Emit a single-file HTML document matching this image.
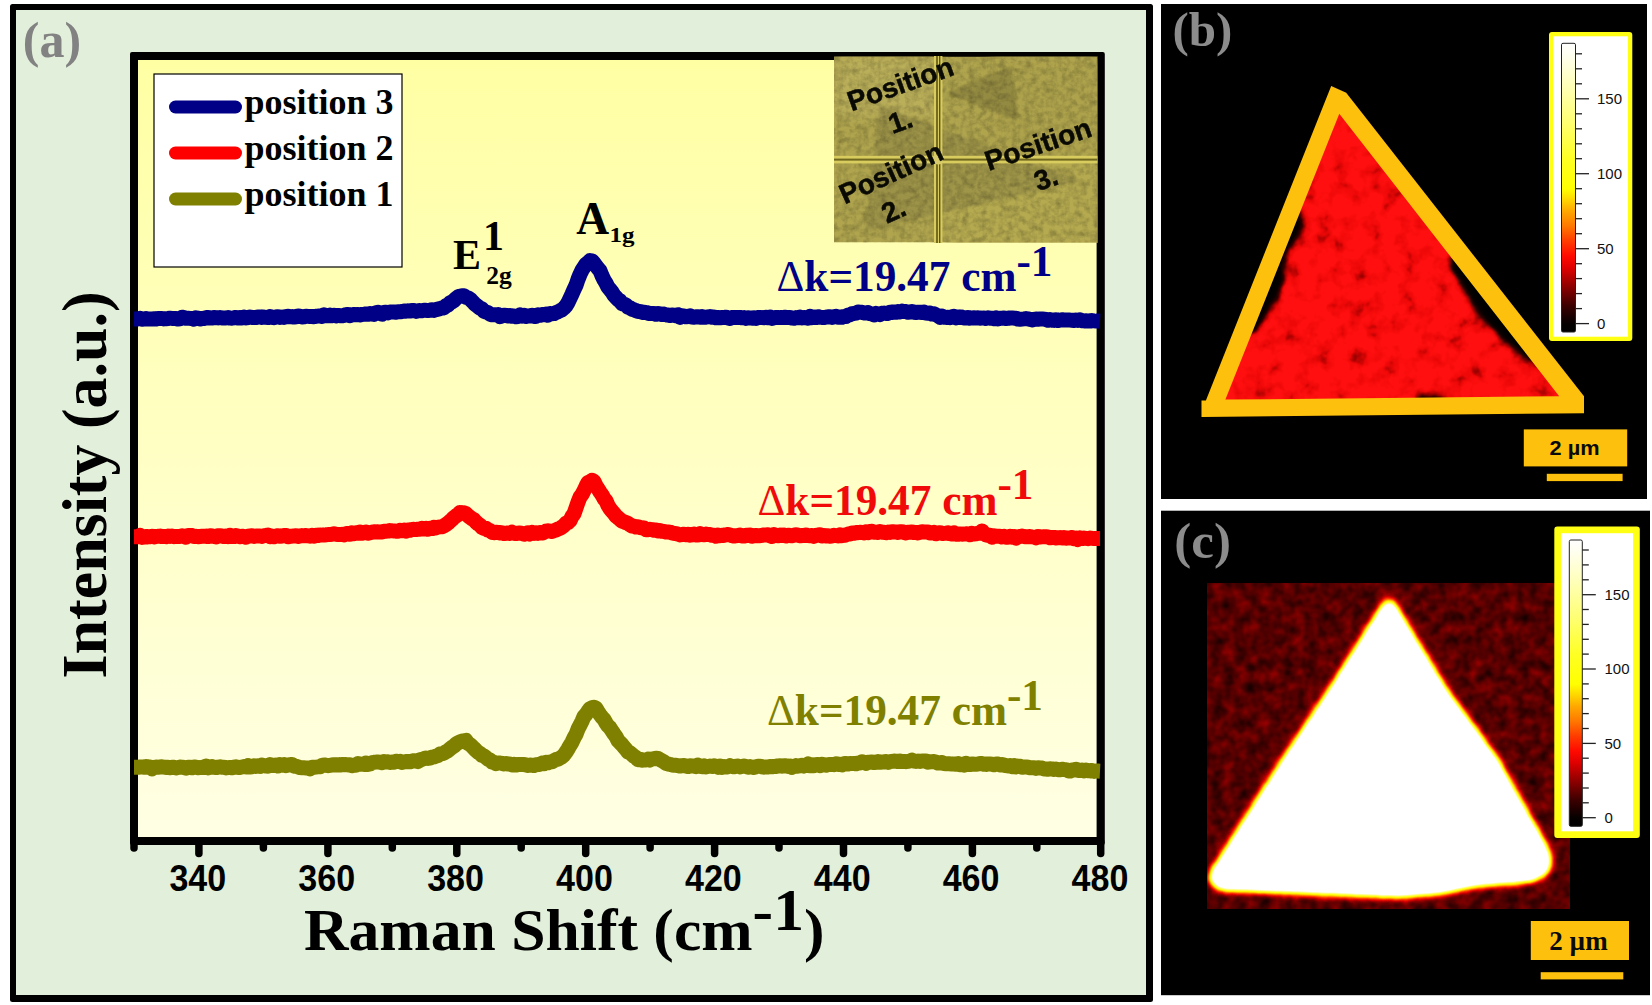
<!DOCTYPE html>
<html lang="en"><head><meta charset="utf-8"><title>Raman spectra and Raman mapping</title>
<style>html,body{margin:0;padding:0;background:#fff}svg{display:block}text{font-family:"Liberation Serif", "DejaVu Serif", serif;font-weight:bold}.sans{font-family:"Liberation Sans", "DejaVu Sans", sans-serif}</style></head><body>
<svg width="1652" height="1005" viewBox="0 0 1652 1005">
<defs>
<linearGradient id="plotbg" x1="0" y1="0" x2="0" y2="1"><stop offset="0" stop-color="#ffffa4"/><stop offset="1" stop-color="#ffffe4"/></linearGradient>
<linearGradient id="hot" x1="0" y1="1" x2="0" y2="0"><stop offset="0" stop-color="#000000"/><stop offset="0.03" stop-color="#060000"/><stop offset="0.091" stop-color="#3c0000"/><stop offset="0.159" stop-color="#900000"/><stop offset="0.221" stop-color="#de0000"/><stop offset="0.263" stop-color="#ff0a00"/><stop offset="0.315" stop-color="#ff3c00"/><stop offset="0.367" stop-color="#ff7800"/><stop offset="0.419" stop-color="#ffa800"/><stop offset="0.46" stop-color="#ffd800"/><stop offset="0.497" stop-color="#ffff00"/><stop offset="0.60" stop-color="#ffff24"/><stop offset="0.73" stop-color="#ffff74"/><stop offset="0.86" stop-color="#ffffbc"/><stop offset="0.964" stop-color="#fffff2"/><stop offset="1" stop-color="#ffffff"/></linearGradient>
<filter id="photoNoise" x="0" y="0" width="100%" height="100%"><feTurbulence type="fractalNoise" baseFrequency="0.16" numOctaves="3" seed="3" result="n"/><feColorMatrix in="n" type="matrix" values="0 0 0 0 0  0 0 0 0 0  0 0 0 0 0  0.9 0.9 0 0 -0.7" result="a"/><feComposite in="a" in2="SourceGraphic" operator="in"/></filter>
<filter id="redNoise" x="-5%" y="-5%" width="110%" height="110%"><feTurbulence type="fractalNoise" baseFrequency="0.045" numOctaves="3" seed="11" result="n"/><feColorMatrix in="n" type="matrix" values="0 0 0 0 0.42  0 0 0 0 0  0 0 0 0 0  1.5 0 0 0 -0.5" result="a"/><feComposite in="a" in2="SourceGraphic" operator="in"/></filter>
<filter id="darkNoise" x="0" y="0" width="100%" height="100%"><feTurbulence type="fractalNoise" baseFrequency="0.1" numOctaves="2" seed="5" result="n"/><feColorMatrix in="n" type="matrix" values="0 0 0 0 0.66  0 0 0 0 0  0 0 0 0 0  2.2 0 0 0 -1.0" result="a"/><feComposite in="a" in2="SourceGraphic" operator="in"/></filter>
<filter id="darkNoise2" x="0" y="0" width="100%" height="100%"><feTurbulence type="fractalNoise" baseFrequency="0.1" numOctaves="2" seed="5" result="n"/><feColorMatrix in="n" type="matrix" values="0 0 0 0 0  0 0 0 0 0  0 0 0 0 0  0 2.4 0 0 -1.0" result="a"/><feComposite in="a" in2="SourceGraphic" operator="in"/></filter>
<filter id="blur3"><feGaussianBlur stdDeviation="3"/></filter>
<filter id="blur2"><feGaussianBlur stdDeviation="1.8"/></filter>
<filter id="blur1"><feGaussianBlur stdDeviation="0.9"/></filter>
<filter id="blur6"><feGaussianBlur stdDeviation="6"/></filter>
<filter id="hotmap" filterUnits="userSpaceOnUse" x="1207.5" y="583" width="362.5" height="325.5" color-interpolation-filters="sRGB"><feGaussianBlur in="SourceGraphic" stdDeviation="5" result="b"/><feTurbulence type="fractalNoise" baseFrequency="0.085" numOctaves="2" seed="4" result="t"/><feColorMatrix in="t" type="matrix" values="0.15 0 0 0 0.008  0.15 0 0 0 0.008  0.15 0 0 0 0.008  0 0 0 0 1" result="n"/><feComposite in="b" in2="n" operator="arithmetic" k1="0" k2="2.2" k3="1" k4="0" result="s"/><feComponentTransfer in="s"><feFuncR type="table" tableValues="0 0.40 0.86 1 1 1 1 1 1 1 1"/><feFuncG type="table" tableValues="0 0 0 0.25 0.62 0.9 1 1 1 1 1"/><feFuncB type="table" tableValues="0 0 0 0 0 0 0.08 0.3 0.55 0.8 1"/><feFuncA type="linear" slope="0" intercept="1"/></feComponentTransfer></filter>
<filter id="redmap" filterUnits="userSpaceOnUse" x="1195" y="80" width="400" height="345" color-interpolation-filters="sRGB"><feGaussianBlur in="SourceGraphic" stdDeviation="4.2" result="b"/><feTurbulence type="fractalNoise" baseFrequency="0.06" numOctaves="3" seed="8" result="t"/><feColorMatrix in="t" type="matrix" values="1 0 0 0 0  1 0 0 0 0  1 0 0 0 0  0 0 0 0 1" result="n"/><feComposite in="b" in2="n" operator="arithmetic" k1="0.9" k2="0.52" k3="0" k4="0" result="s"/><feComponentTransfer in="s"><feFuncR type="table" tableValues="0 0.04 0.2 0.62 0.93 1"/><feFuncG type="table" tableValues="0 0 0 0 0.03 0.06"/><feFuncB type="table" tableValues="0 0 0 0 0.03 0.06"/><feFuncA type="linear" slope="0" intercept="1"/></feComponentTransfer></filter>
<clipPath id="clipB"><rect x="1161" y="4" width="486" height="495"/></clipPath>
<clipPath id="clipPhoto"><rect x="834" y="56.5" width="263.5" height="186"/></clipPath>
<clipPath id="clipCimg"><rect x="1207.5" y="583" width="362.5" height="325.5"/></clipPath>
</defs>
<rect x="0" y="0" width="1652" height="1005" fill="#ffffff"/>
<g id="panel-a">
<rect x="10" y="4" width="1143" height="998" rx="2.5" fill="#000"/>
<rect x="16" y="10" width="1130" height="985" fill="#e2efda"/>
<rect x="130" y="52" width="974.8" height="793" rx="2" fill="#000"/>
<rect x="138" y="60" width="958.6" height="777" fill="url(#plotbg)"/>
<g stroke="#000" stroke-width="7.5" stroke-linecap="round">
<line x1="198.9" y1="842" x2="198.9" y2="853.5"/>
<line x1="327.9" y1="842" x2="327.9" y2="853.5"/>
<line x1="456.8" y1="842" x2="456.8" y2="853.5"/>
<line x1="585.7" y1="842" x2="585.7" y2="853.5"/>
<line x1="714.6" y1="842" x2="714.6" y2="853.5"/>
<line x1="843.5" y1="842" x2="843.5" y2="853.5"/>
<line x1="972.4" y1="842" x2="972.4" y2="853.5"/>
<line x1="1100.7" y1="842" x2="1100.7" y2="853.5"/>
<line x1="134.0" y1="842" x2="134.0" y2="848"/>
<line x1="263.4" y1="842" x2="263.4" y2="848"/>
<line x1="392.3" y1="842" x2="392.3" y2="848"/>
<line x1="521.2" y1="842" x2="521.2" y2="848"/>
<line x1="650.1" y1="842" x2="650.1" y2="848"/>
<line x1="779.0" y1="842" x2="779.0" y2="848"/>
<line x1="907.9" y1="842" x2="907.9" y2="848"/>
<line x1="1036.8" y1="842" x2="1036.8" y2="848"/>
</g>
<g class="sans" font-size="36" text-anchor="middle" fill="#000">
<text class="sans" x="197.8" y="891" textLength="56.8" lengthAdjust="spacingAndGlyphs">340</text>
<text class="sans" x="326.7" y="891" textLength="56.8" lengthAdjust="spacingAndGlyphs">360</text>
<text class="sans" x="455.6" y="891" textLength="56.8" lengthAdjust="spacingAndGlyphs">380</text>
<text class="sans" x="584.5" y="891" textLength="56.8" lengthAdjust="spacingAndGlyphs">400</text>
<text class="sans" x="713.4" y="891" textLength="56.8" lengthAdjust="spacingAndGlyphs">420</text>
<text class="sans" x="842.2" y="891" textLength="56.8" lengthAdjust="spacingAndGlyphs">440</text>
<text class="sans" x="971.1" y="891" textLength="56.8" lengthAdjust="spacingAndGlyphs">460</text>
<text class="sans" x="1100.0" y="891" textLength="56.8" lengthAdjust="spacingAndGlyphs">480</text>
</g>
<text x="304" y="949.5" font-size="60" fill="#000" textLength="520.5" lengthAdjust="spacingAndGlyphs">Raman Shift (cm<tspan dy="-20">-1</tspan><tspan dy="20">)</tspan></text>
<text transform="translate(106,678.5) rotate(-90)" font-size="63" fill="#000" textLength="387" lengthAdjust="spacingAndGlyphs">Intensity (a.u.)</text>
<text x="22.8" y="57" font-size="50" fill="#828282">(a)</text>
<rect x="154" y="74" width="248" height="193" fill="#fff" stroke="#000" stroke-width="1.2"/>
<g stroke-width="13" stroke-linecap="round">
<line x1="175.5" y1="107" x2="235.5" y2="107" stroke="#000086"/>
<line x1="175.5" y1="153" x2="235.5" y2="153" stroke="#ff0000"/>
<line x1="175.5" y1="199" x2="235.5" y2="199" stroke="#808000"/>
</g>
<g font-size="36" fill="#000">
<text x="244.5" y="113.5">position 3</text>
<text x="244.5" y="159.5">position 2</text>
<text x="244.5" y="205.5">position 1</text>
</g>
<g fill="none" stroke-width="15" stroke-linejoin="round" stroke-linecap="butt">
<polyline stroke="#000086" points="134.0,319.0 136.0,319.0 138.0,319.0 140.0,318.3 142.0,319.3 144.0,319.1 146.0,318.6 148.0,319.1 150.0,319.0 152.0,318.9 154.0,318.8 156.0,319.0 158.0,318.4 160.0,318.6 162.0,318.5 164.0,318.9 166.0,318.7 168.0,318.5 170.0,318.2 172.0,318.4 174.0,318.5 176.0,318.4 178.0,319.1 180.0,318.9 182.0,317.2 184.0,317.6 186.0,318.3 188.0,318.2 190.0,318.4 192.0,318.4 194.0,319.2 196.0,317.8 198.0,318.1 200.0,319.1 202.0,318.5 204.0,318.4 206.0,317.9 208.0,317.4 210.0,318.1 212.0,318.1 214.0,317.5 216.0,317.7 218.0,317.9 220.0,317.5 222.0,317.9 224.0,317.9 226.0,317.9 228.0,317.6 230.0,318.1 232.0,318.2 234.0,317.9 236.0,317.4 238.0,318.0 240.0,317.4 242.0,318.0 244.0,317.1 246.0,318.0 248.0,317.6 250.0,317.0 252.0,317.4 254.0,317.5 256.0,317.6 258.0,317.0 260.0,316.9 262.0,317.4 264.0,317.1 266.0,317.4 268.0,317.6 270.0,316.5 272.0,317.3 274.0,317.7 276.0,317.0 278.0,316.7 280.0,317.4 282.0,317.1 284.0,317.4 286.0,316.8 288.0,316.2 290.0,316.8 292.0,316.6 294.0,317.1 296.0,316.8 298.0,315.9 300.0,316.1 302.0,317.0 304.0,316.8 306.0,316.2 308.0,316.4 310.0,316.6 312.0,316.5 314.0,316.7 316.0,316.3 318.0,316.1 320.0,316.0 322.0,316.5 324.0,314.9 326.0,315.8 328.0,315.8 330.0,315.1 332.0,315.8 334.0,315.3 336.0,315.9 338.0,315.4 340.0,315.7 342.0,315.8 344.0,315.4 346.0,314.7 348.0,314.4 350.0,315.7 352.0,314.8 354.0,314.5 356.0,314.7 358.0,314.5 360.0,314.9 362.0,314.4 364.0,314.3 366.0,313.9 368.0,314.3 370.0,313.5 372.0,314.1 374.0,314.4 376.0,312.8 378.0,312.3 380.0,313.5 382.0,314.2 384.0,312.5 386.0,312.2 388.0,312.9 390.0,312.1 392.0,312.1 394.0,312.0 396.0,312.2 398.0,311.7 400.0,311.8 402.0,311.5 404.0,311.1 406.0,311.2 408.0,310.8 410.0,311.1 412.0,310.4 414.0,310.4 416.0,311.4 418.0,310.7 420.0,310.6 422.0,310.8 424.0,310.3 426.0,310.3 428.0,310.6 430.0,310.4 432.0,309.7 434.0,310.4 436.0,309.6 438.0,309.1 440.0,308.6 442.0,308.0 444.0,307.9 446.0,305.6 448.0,305.1 450.0,302.8 452.0,301.9 454.0,300.5 456.0,298.4 458.0,296.9 460.0,296.2 462.0,295.7 464.0,295.8 466.0,297.3 468.0,297.9 470.0,299.0 472.0,301.1 474.0,303.2 476.0,305.1 478.0,306.6 480.0,308.2 482.0,308.9 484.0,311.4 486.0,312.0 488.0,312.7 490.0,314.1 492.0,314.8 494.0,314.7 496.0,314.9 498.0,314.6 500.0,316.6 502.0,315.9 504.0,315.2 506.0,315.5 508.0,316.0 510.0,315.4 512.0,316.2 514.0,316.0 516.0,316.8 518.0,316.6 520.0,314.9 522.0,316.1 524.0,315.3 526.0,316.5 528.0,316.0 530.0,316.1 532.0,315.2 534.0,316.4 536.0,316.4 538.0,314.8 540.0,315.3 542.0,314.6 544.0,314.7 546.0,314.0 548.0,315.2 550.0,313.6 552.0,313.7 554.0,313.6 556.0,312.5 558.0,311.8 560.0,310.7 562.0,309.8 564.0,308.0 566.0,305.9 568.0,302.6 570.0,298.4 572.0,294.1 574.0,289.5 576.0,285.3 578.0,279.4 580.0,274.4 582.0,270.2 584.0,267.2 586.0,264.1 588.0,262.7 590.0,260.6 592.0,260.9 594.0,263.1 596.0,265.7 598.0,268.4 600.0,270.7 602.0,275.7 604.0,279.9 606.0,283.1 608.0,287.2 610.0,289.5 612.0,292.0 614.0,295.2 616.0,297.4 618.0,299.7 620.0,300.7 622.0,303.8 624.0,304.1 626.0,305.0 628.0,307.2 630.0,307.9 632.0,309.2 634.0,309.8 636.0,310.7 638.0,311.4 640.0,311.4 642.0,312.4 644.0,312.3 646.0,312.4 648.0,313.1 650.0,313.6 652.0,313.5 654.0,313.4 656.0,314.3 658.0,313.4 660.0,314.0 662.0,314.6 664.0,314.1 666.0,314.9 668.0,315.0 670.0,315.6 672.0,315.0 674.0,315.2 676.0,315.8 678.0,314.7 680.0,317.4 682.0,315.8 684.0,315.9 686.0,316.8 688.0,316.5 690.0,315.8 692.0,317.0 694.0,317.2 696.0,316.7 698.0,316.8 700.0,317.2 702.0,316.6 704.0,317.3 706.0,317.2 708.0,316.9 710.0,316.6 712.0,317.2 714.0,316.9 716.0,317.8 718.0,317.5 720.0,317.8 722.0,317.5 724.0,317.6 726.0,317.2 728.0,317.9 730.0,318.4 732.0,317.5 734.0,317.4 736.0,317.6 738.0,317.5 740.0,317.4 742.0,317.8 744.0,317.6 746.0,318.4 748.0,317.8 750.0,317.9 752.0,318.2 754.0,317.7 756.0,318.4 758.0,317.5 760.0,317.4 762.0,317.6 764.0,317.7 766.0,317.2 768.0,317.8 770.0,317.0 772.0,318.4 774.0,317.7 776.0,317.5 778.0,317.4 780.0,317.6 782.0,317.6 784.0,317.3 786.0,317.3 788.0,317.6 790.0,317.5 792.0,318.1 794.0,318.2 796.0,317.6 798.0,317.8 800.0,317.0 802.0,317.9 804.0,317.5 806.0,317.7 808.0,318.2 810.0,316.4 812.0,317.6 814.0,316.9 816.0,317.6 818.0,316.7 820.0,317.1 822.0,317.4 824.0,317.5 826.0,317.2 828.0,316.8 830.0,316.8 832.0,317.4 834.0,317.0 836.0,316.2 838.0,317.3 840.0,317.0 842.0,317.2 844.0,316.4 846.0,316.4 848.0,314.9 850.0,314.9 852.0,313.7 854.0,313.5 856.0,313.1 858.0,312.0 860.0,312.2 862.0,312.3 864.0,313.0 866.0,313.1 868.0,312.5 870.0,313.6 872.0,314.0 874.0,314.9 876.0,313.4 878.0,314.0 880.0,314.7 882.0,313.3 884.0,313.1 886.0,313.5 888.0,313.4 890.0,312.2 892.0,312.4 894.0,311.9 896.0,312.3 898.0,311.5 900.0,311.9 902.0,311.1 904.0,311.5 906.0,311.6 908.0,312.2 910.0,312.0 912.0,311.5 914.0,312.3 916.0,312.5 918.0,312.2 920.0,312.3 922.0,312.5 924.0,312.0 926.0,313.1 928.0,313.3 930.0,313.0 932.0,314.1 934.0,313.8 936.0,314.9 938.0,315.7 940.0,317.4 942.0,316.1 944.0,317.2 946.0,317.4 948.0,317.3 950.0,317.7 952.0,316.8 954.0,316.3 956.0,317.8 958.0,316.9 960.0,317.4 962.0,317.1 964.0,318.1 966.0,318.1 968.0,317.4 970.0,318.2 972.0,317.9 974.0,317.8 976.0,317.9 978.0,317.8 980.0,318.2 982.0,318.1 984.0,317.9 986.0,318.5 988.0,317.8 990.0,318.2 992.0,318.3 994.0,318.8 996.0,317.9 998.0,319.0 1000.0,318.3 1002.0,318.2 1004.0,318.0 1006.0,318.6 1008.0,318.4 1010.0,317.9 1012.0,317.9 1014.0,318.2 1016.0,318.2 1018.0,319.1 1020.0,319.3 1022.0,319.1 1024.0,318.9 1026.0,318.6 1028.0,318.9 1030.0,319.3 1032.0,319.9 1034.0,319.4 1036.0,319.0 1038.0,319.2 1040.0,319.0 1042.0,318.9 1044.0,319.2 1046.0,319.5 1048.0,320.3 1050.0,319.5 1052.0,320.2 1054.0,320.4 1056.0,319.7 1058.0,320.5 1060.0,320.2 1062.0,319.7 1064.0,320.1 1066.0,320.0 1068.0,320.0 1070.0,320.1 1072.0,320.3 1074.0,320.5 1076.0,320.0 1078.0,320.4 1080.0,319.8 1082.0,320.7 1084.0,320.9 1086.0,320.8 1088.0,320.9 1090.0,321.1 1092.0,320.6 1094.0,320.9 1096.0,321.1 1098.0,321.1 1100.0,321.2"/>
<polyline stroke="#fa0000" points="134.0,536.7 136.0,536.7 138.0,536.7 140.0,535.5 142.0,537.4 144.0,537.1 146.0,536.4 148.0,536.9 150.0,536.7 152.0,536.3 154.0,536.9 156.0,536.4 158.0,536.3 160.0,536.1 162.0,536.6 164.0,536.4 166.0,536.7 168.0,536.1 170.0,536.4 172.0,536.0 174.0,536.7 176.0,536.4 178.0,536.5 180.0,536.5 182.0,535.8 184.0,536.6 186.0,537.2 188.0,535.5 190.0,535.5 192.0,535.6 194.0,536.6 196.0,536.3 198.0,536.7 200.0,536.5 202.0,536.3 204.0,536.3 206.0,536.1 208.0,536.6 210.0,535.7 212.0,536.0 214.0,536.3 216.0,537.0 218.0,535.8 220.0,535.7 222.0,535.9 224.0,536.6 226.0,536.0 228.0,536.7 230.0,535.3 232.0,536.6 234.0,536.6 236.0,535.5 238.0,536.2 240.0,536.7 242.0,536.2 244.0,536.6 246.0,537.2 248.0,536.2 250.0,536.0 252.0,535.8 254.0,536.4 256.0,536.0 258.0,536.0 260.0,536.0 262.0,536.4 264.0,535.6 266.0,535.4 268.0,535.0 270.0,536.6 272.0,536.1 274.0,536.7 276.0,536.1 278.0,535.7 280.0,536.3 282.0,536.0 284.0,535.5 286.0,535.6 288.0,536.8 290.0,536.2 292.0,536.2 294.0,535.9 296.0,535.7 298.0,536.4 300.0,535.9 302.0,535.6 304.0,535.8 306.0,535.5 308.0,535.9 310.0,536.2 312.0,535.3 314.0,536.2 316.0,535.2 318.0,535.5 320.0,534.9 322.0,535.1 324.0,535.1 326.0,534.8 328.0,534.6 330.0,534.5 332.0,534.3 334.0,533.8 336.0,534.3 338.0,534.5 340.0,534.6 342.0,534.3 344.0,535.0 346.0,533.9 348.0,533.4 350.0,534.3 352.0,532.9 354.0,533.7 356.0,532.7 358.0,533.2 360.0,532.0 362.0,533.2 364.0,532.6 366.0,532.1 368.0,533.2 370.0,532.7 372.0,532.2 374.0,531.8 376.0,532.0 378.0,531.8 380.0,532.1 382.0,532.0 384.0,531.2 386.0,531.2 388.0,531.1 390.0,530.6 392.0,530.8 394.0,530.9 396.0,531.2 398.0,531.3 400.0,530.2 402.0,530.7 404.0,530.1 406.0,531.1 408.0,530.0 410.0,530.2 412.0,529.4 414.0,529.3 416.0,529.6 418.0,529.2 420.0,529.3 422.0,528.3 424.0,529.1 426.0,528.3 428.0,529.3 430.0,528.2 432.0,528.6 434.0,527.3 436.0,527.9 438.0,527.1 440.0,526.9 442.0,526.7 444.0,525.7 446.0,524.5 448.0,523.1 450.0,521.3 452.0,519.5 454.0,517.4 456.0,515.9 458.0,514.6 460.0,512.5 462.0,513.1 464.0,512.8 466.0,513.7 468.0,515.7 470.0,517.3 472.0,518.8 474.0,519.8 476.0,522.1 478.0,523.9 480.0,525.1 482.0,527.5 484.0,528.4 486.0,528.3 488.0,530.2 490.0,530.5 492.0,532.3 494.0,532.7 496.0,532.2 498.0,532.4 500.0,532.9 502.0,532.8 504.0,533.6 506.0,533.3 508.0,532.9 510.0,533.4 512.0,532.2 514.0,533.3 516.0,533.6 518.0,533.2 520.0,532.9 522.0,533.5 524.0,534.2 526.0,533.4 528.0,532.8 530.0,534.0 532.0,532.4 534.0,533.4 536.0,532.8 538.0,533.4 540.0,532.4 542.0,533.1 544.0,532.4 546.0,531.2 548.0,530.8 550.0,531.2 552.0,531.5 554.0,530.6 556.0,530.0 558.0,529.0 560.0,528.4 562.0,527.0 564.0,525.5 566.0,523.3 568.0,522.5 570.0,520.6 572.0,516.5 574.0,513.8 576.0,508.0 578.0,502.3 580.0,497.1 582.0,494.5 584.0,490.6 586.0,486.3 588.0,482.5 590.0,481.7 592.0,480.3 594.0,481.5 596.0,485.7 598.0,488.8 600.0,492.0 602.0,494.8 604.0,498.6 606.0,500.8 608.0,505.5 610.0,508.6 612.0,511.2 614.0,513.3 616.0,516.1 618.0,517.7 620.0,519.4 622.0,521.2 624.0,521.7 626.0,522.7 628.0,523.4 630.0,524.8 632.0,526.0 634.0,526.2 636.0,527.1 638.0,526.7 640.0,527.5 642.0,527.8 644.0,528.0 646.0,529.8 648.0,529.7 650.0,529.3 652.0,529.6 654.0,530.2 656.0,529.9 658.0,531.0 660.0,530.6 662.0,531.3 664.0,531.4 666.0,532.0 668.0,532.0 670.0,532.2 672.0,532.9 674.0,533.3 676.0,533.7 678.0,534.1 680.0,534.9 682.0,534.6 684.0,534.2 686.0,534.7 688.0,534.2 690.0,535.2 692.0,534.8 694.0,534.0 696.0,535.0 698.0,535.1 700.0,533.6 702.0,534.5 704.0,534.7 706.0,534.1 708.0,534.5 710.0,534.6 712.0,535.3 714.0,535.3 716.0,536.3 718.0,535.0 720.0,535.7 722.0,535.3 724.0,535.4 726.0,534.8 728.0,534.5 730.0,535.0 732.0,535.7 734.0,536.1 736.0,535.7 738.0,535.6 740.0,535.1 742.0,536.1 744.0,536.1 746.0,535.2 748.0,535.5 750.0,535.0 752.0,536.2 754.0,535.7 756.0,535.5 758.0,535.7 760.0,535.7 762.0,535.3 764.0,534.9 766.0,534.9 768.0,534.7 770.0,535.7 772.0,536.5 774.0,534.7 776.0,535.6 778.0,535.7 780.0,535.1 782.0,535.6 784.0,535.0 786.0,536.0 788.0,535.2 790.0,535.5 792.0,535.8 794.0,535.3 796.0,534.7 798.0,535.3 800.0,535.8 802.0,535.5 804.0,535.6 806.0,535.0 808.0,535.6 810.0,535.8 812.0,535.5 814.0,536.4 816.0,535.4 818.0,535.0 820.0,534.8 822.0,536.0 824.0,535.5 826.0,536.0 828.0,535.7 830.0,536.2 832.0,536.1 834.0,535.3 836.0,535.6 838.0,535.9 840.0,534.8 842.0,535.7 844.0,535.4 846.0,534.9 848.0,534.1 850.0,534.0 852.0,533.0 854.0,533.2 856.0,532.6 858.0,532.7 860.0,532.3 862.0,532.5 864.0,532.9 866.0,531.8 868.0,532.7 870.0,531.4 872.0,531.3 874.0,532.2 876.0,532.3 878.0,532.4 880.0,531.5 882.0,532.2 884.0,532.3 886.0,532.7 888.0,532.1 890.0,532.4 892.0,531.7 894.0,532.1 896.0,531.9 898.0,532.4 900.0,531.7 902.0,531.7 904.0,532.4 906.0,532.9 908.0,532.3 910.0,532.2 912.0,531.9 914.0,532.6 916.0,532.4 918.0,532.9 920.0,532.3 922.0,531.8 924.0,532.0 926.0,531.9 928.0,531.9 930.0,533.1 932.0,533.0 934.0,532.2 936.0,533.7 938.0,533.1 940.0,532.7 942.0,533.4 944.0,533.4 946.0,533.2 948.0,532.7 950.0,533.7 952.0,534.0 954.0,532.8 956.0,534.2 958.0,534.3 960.0,533.9 962.0,534.2 964.0,534.1 966.0,533.8 968.0,534.0 970.0,534.8 972.0,533.4 974.0,534.1 976.0,533.9 978.0,533.3 980.0,533.2 982.0,530.9 984.0,533.2 986.0,534.8 988.0,535.5 990.0,535.3 992.0,537.3 994.0,535.8 996.0,536.2 998.0,536.2 1000.0,536.2 1002.0,537.0 1004.0,536.3 1006.0,537.2 1008.0,537.2 1010.0,536.3 1012.0,537.3 1014.0,536.5 1016.0,538.1 1018.0,536.8 1020.0,536.5 1022.0,536.1 1024.0,536.5 1026.0,536.8 1028.0,536.7 1030.0,536.6 1032.0,536.9 1034.0,537.1 1036.0,537.9 1038.0,536.5 1040.0,537.1 1042.0,536.9 1044.0,536.7 1046.0,536.8 1048.0,537.0 1050.0,537.8 1052.0,537.5 1054.0,537.4 1056.0,537.9 1058.0,537.8 1060.0,537.6 1062.0,538.0 1064.0,537.5 1066.0,538.2 1068.0,538.1 1070.0,537.8 1072.0,537.5 1074.0,538.7 1076.0,538.1 1078.0,539.5 1080.0,537.9 1082.0,538.6 1084.0,538.1 1086.0,538.4 1088.0,538.7 1090.0,538.0 1092.0,538.4 1094.0,538.6 1096.0,538.5 1098.0,538.6 1100.0,538.6"/>
<polyline stroke="#808000" points="134.0,767.3 136.0,767.3 138.0,767.3 140.0,767.0 142.0,767.1 144.0,767.2 146.0,766.4 148.0,767.2 150.0,766.9 152.0,768.8 154.0,767.4 156.0,767.1 158.0,767.2 160.0,767.0 162.0,766.8 164.0,767.1 166.0,767.5 168.0,767.2 170.0,767.7 172.0,767.2 174.0,767.3 176.0,768.0 178.0,767.5 180.0,767.1 182.0,767.2 184.0,767.5 186.0,768.2 188.0,767.2 190.0,767.2 192.0,767.8 194.0,766.9 196.0,767.2 198.0,767.7 200.0,767.6 202.0,767.3 204.0,767.6 206.0,766.0 208.0,767.8 210.0,766.9 212.0,766.5 214.0,767.4 216.0,767.6 218.0,767.1 220.0,766.8 222.0,767.3 224.0,767.3 226.0,767.9 228.0,767.6 230.0,767.4 232.0,767.8 234.0,767.2 236.0,766.8 238.0,767.5 240.0,767.4 242.0,767.0 244.0,766.6 246.0,767.0 248.0,765.7 250.0,767.0 252.0,766.8 254.0,765.8 256.0,766.4 258.0,765.8 260.0,766.5 262.0,765.1 264.0,765.5 266.0,766.1 268.0,766.2 270.0,764.6 272.0,765.3 274.0,765.6 276.0,765.0 278.0,766.0 280.0,764.6 282.0,765.3 284.0,764.6 286.0,765.7 288.0,765.0 290.0,764.8 292.0,764.4 294.0,766.2 296.0,766.3 298.0,766.9 300.0,767.6 302.0,767.8 304.0,767.8 306.0,767.9 308.0,767.9 310.0,768.8 312.0,767.2 314.0,767.3 316.0,767.1 318.0,766.9 320.0,766.7 322.0,765.5 324.0,764.9 326.0,765.4 328.0,765.7 330.0,765.3 332.0,765.0 334.0,764.7 336.0,765.0 338.0,764.7 340.0,765.1 342.0,764.4 344.0,764.7 346.0,764.6 348.0,764.9 350.0,764.7 352.0,765.7 354.0,765.2 356.0,765.2 358.0,763.5 360.0,764.3 362.0,764.1 364.0,764.5 366.0,763.1 368.0,764.4 370.0,764.0 372.0,762.6 374.0,762.3 376.0,762.1 378.0,762.1 380.0,762.2 382.0,762.7 384.0,761.6 386.0,762.0 388.0,761.8 390.0,762.5 392.0,762.0 394.0,762.3 396.0,761.2 398.0,761.6 400.0,761.3 402.0,762.4 404.0,762.0 406.0,761.6 408.0,761.5 410.0,761.8 412.0,761.1 414.0,760.7 416.0,761.0 418.0,761.6 420.0,759.9 422.0,759.4 424.0,758.6 426.0,758.1 428.0,758.4 430.0,758.1 432.0,757.2 434.0,756.8 436.0,756.1 438.0,755.5 440.0,754.0 442.0,753.7 444.0,753.1 446.0,751.7 448.0,750.7 450.0,748.9 452.0,747.3 454.0,746.1 456.0,744.1 458.0,742.8 460.0,741.9 462.0,741.0 464.0,741.3 466.0,740.5 468.0,743.4 470.0,744.5 472.0,746.3 474.0,748.4 476.0,750.4 478.0,752.2 480.0,753.4 482.0,755.4 484.0,756.0 486.0,757.5 488.0,759.3 490.0,759.9 492.0,762.2 494.0,762.5 496.0,763.6 498.0,762.9 500.0,763.0 502.0,763.4 504.0,763.9 506.0,763.5 508.0,764.1 510.0,764.1 512.0,765.0 514.0,764.2 516.0,765.1 518.0,764.4 520.0,764.4 522.0,764.5 524.0,764.4 526.0,765.0 528.0,765.5 530.0,765.1 532.0,765.2 534.0,765.6 536.0,764.8 538.0,764.6 540.0,764.1 542.0,763.1 544.0,763.8 546.0,762.2 548.0,762.8 550.0,761.9 552.0,761.8 554.0,760.6 556.0,759.5 558.0,759.3 560.0,758.0 562.0,756.9 564.0,755.0 566.0,752.2 568.0,749.0 570.0,745.4 572.0,742.2 574.0,737.8 576.0,734.4 578.0,729.1 580.0,725.3 582.0,721.2 584.0,716.6 586.0,714.4 588.0,711.4 590.0,708.6 592.0,707.8 594.0,707.2 596.0,708.2 598.0,711.6 600.0,714.6 602.0,717.3 604.0,719.4 606.0,723.0 608.0,725.9 610.0,727.8 612.0,730.8 614.0,733.9 616.0,736.6 618.0,740.5 620.0,742.6 622.0,744.6 624.0,747.1 626.0,749.4 628.0,752.1 630.0,752.7 632.0,754.5 634.0,756.2 636.0,757.4 638.0,759.6 640.0,759.2 642.0,760.2 644.0,760.1 646.0,760.1 648.0,759.1 650.0,760.1 652.0,758.9 654.0,758.8 656.0,758.2 658.0,758.4 660.0,759.6 662.0,760.8 664.0,761.9 666.0,763.3 668.0,764.0 670.0,764.3 672.0,765.0 674.0,765.2 676.0,765.2 678.0,765.7 680.0,766.1 682.0,765.7 684.0,765.5 686.0,766.0 688.0,766.6 690.0,765.7 692.0,765.9 694.0,765.9 696.0,766.6 698.0,765.2 700.0,766.3 702.0,766.7 704.0,765.8 706.0,766.9 708.0,766.5 710.0,766.1 712.0,766.5 714.0,765.7 716.0,766.2 718.0,767.3 720.0,766.1 722.0,767.4 724.0,766.5 726.0,767.1 728.0,766.6 730.0,765.6 732.0,766.4 734.0,766.8 736.0,766.2 738.0,766.1 740.0,766.9 742.0,766.5 744.0,766.0 746.0,766.5 748.0,767.2 750.0,766.6 752.0,767.2 754.0,767.5 756.0,766.8 758.0,766.3 760.0,766.2 762.0,766.8 764.0,767.2 766.0,766.9 768.0,767.0 770.0,766.5 772.0,766.8 774.0,766.4 776.0,766.4 778.0,765.9 780.0,765.8 782.0,766.2 784.0,765.8 786.0,765.8 788.0,766.5 790.0,766.1 792.0,767.4 794.0,766.4 796.0,765.6 798.0,766.2 800.0,765.9 802.0,765.3 804.0,766.1 806.0,765.1 808.0,764.0 810.0,765.7 812.0,764.9 814.0,765.8 816.0,764.7 818.0,764.4 820.0,765.6 822.0,764.3 824.0,764.8 826.0,765.2 828.0,764.6 830.0,764.4 832.0,764.4 834.0,764.7 836.0,763.8 838.0,764.4 840.0,764.3 842.0,765.0 844.0,763.7 846.0,763.4 848.0,764.0 850.0,763.4 852.0,763.6 854.0,763.4 856.0,763.8 858.0,762.9 860.0,763.0 862.0,761.8 864.0,762.4 866.0,763.4 868.0,762.3 870.0,762.2 872.0,761.9 874.0,762.6 876.0,762.3 878.0,761.6 880.0,762.3 882.0,762.0 884.0,762.1 886.0,761.4 888.0,762.4 890.0,761.7 892.0,761.4 894.0,761.1 896.0,761.2 898.0,761.6 900.0,761.1 902.0,761.6 904.0,761.4 906.0,761.7 908.0,761.4 910.0,761.0 912.0,760.1 914.0,761.1 916.0,761.4 918.0,761.1 920.0,761.4 922.0,761.0 924.0,761.1 926.0,761.0 928.0,762.2 930.0,761.8 932.0,761.7 934.0,761.5 936.0,762.2 938.0,763.1 940.0,762.8 942.0,762.5 944.0,763.6 946.0,763.8 948.0,763.8 950.0,763.8 952.0,764.1 954.0,764.0 956.0,764.2 958.0,763.6 960.0,764.8 962.0,764.3 964.0,765.1 966.0,763.3 968.0,764.5 970.0,764.6 972.0,763.9 974.0,764.2 976.0,764.2 978.0,764.0 980.0,763.5 982.0,763.6 984.0,764.2 986.0,764.4 988.0,763.9 990.0,764.0 992.0,764.2 994.0,764.8 996.0,764.0 998.0,764.1 1000.0,765.0 1002.0,764.6 1004.0,765.1 1006.0,765.6 1008.0,766.0 1010.0,765.6 1012.0,766.6 1014.0,765.6 1016.0,766.9 1018.0,766.1 1020.0,766.3 1022.0,767.3 1024.0,767.0 1026.0,766.9 1028.0,767.2 1030.0,767.8 1032.0,767.7 1034.0,767.8 1036.0,768.4 1038.0,767.8 1040.0,768.0 1042.0,768.1 1044.0,769.0 1046.0,769.0 1048.0,769.3 1050.0,768.8 1052.0,768.9 1054.0,769.4 1056.0,769.0 1058.0,769.7 1060.0,769.7 1062.0,769.2 1064.0,769.6 1066.0,769.7 1068.0,770.6 1070.0,771.1 1072.0,770.0 1074.0,770.1 1076.0,769.2 1078.0,770.4 1080.0,770.4 1082.0,770.0 1084.0,770.9 1086.0,770.0 1088.0,770.7 1090.0,770.9 1092.0,770.4 1094.0,771.4 1096.0,771.1 1098.0,771.1 1100.0,771.2"/>
</g>
<text x="453" y="268.7" font-size="42" fill="#000">E</text>
<text x="483" y="249.6" font-size="42" fill="#000">1</text>
<text x="486.3" y="283.6" font-size="25.5" fill="#000">2g</text>
<text x="576.3" y="234" font-size="45.5" fill="#000">A</text>
<text x="609.5" y="242" font-size="21" fill="#000" textLength="25" lengthAdjust="spacingAndGlyphs">1g</text>
<text x="776.5" y="291.2" font-size="45" fill="#000086" textLength="276" lengthAdjust="spacingAndGlyphs"><tspan style="font-weight:normal">Δ</tspan>k=19.47 cm<tspan dy="-15.5">-1</tspan></text>
<text x="757.5" y="514.7" font-size="45" fill="#f00a0a" textLength="276" lengthAdjust="spacingAndGlyphs"><tspan style="font-weight:normal">Δ</tspan>k=19.47 cm<tspan dy="-15.5">-1</tspan></text>
<text x="767" y="725" font-size="45" fill="#808000" textLength="276" lengthAdjust="spacingAndGlyphs"><tspan style="font-weight:normal">Δ</tspan>k=19.47 cm<tspan dy="-15.5">-1</tspan></text>
</g>
<g id="inset-photo" clip-path="url(#clipPhoto)">
<rect x="834" y="56.5" width="263.5" height="186" fill="#b0a54e"/>
<g filter="url(#blur6)">
<rect x="834" y="56" width="105" height="60" fill="#bdb25c" opacity="0.8"/>
<rect x="945" y="160" width="160" height="90" fill="#b8ad52" opacity="0.7"/>
<rect x="990" y="56" width="110" height="100" fill="#aea34c" opacity="0.7"/>
</g>
<g filter="url(#blur1)">
<polygon points="945.5,93 1011,66 1017.5,121" fill="#857c3a" opacity="0.62"/>
<polygon points="879.5,105.6 865,231 1082,180.8" fill="#8a8140" opacity="0.5"/>
</g>
<rect x="834" y="56.5" width="263.5" height="186" fill="#5a5010" filter="url(#photoNoise)" opacity="0.32"/>
<g>
<rect x="834" y="155.8" width="263.5" height="7.6" fill="#d9cc5e"/>
<rect x="834" y="158.6" width="263.5" height="2" fill="#6f6620"/>
<rect x="934" y="56" width="8.4" height="187" fill="#d9cc5e"/>
<rect x="936.2" y="56" width="1.6" height="187" fill="#5d5515"/>
<rect x="939" y="56" width="1.4" height="187" fill="#5d5515"/>
<circle cx="938.2" cy="159.6" r="5" fill="#d6ca6a"/>
</g>
<g class="sans" font-size="28" fill="#0a0a05" stroke="#0a0a05" stroke-width="0.5" text-anchor="middle">
<text class="sans" transform="translate(903.5,93) rotate(-19.5)">Position</text>
<text class="sans" transform="translate(903.5,130) rotate(-19.5)">1.</text>
<text class="sans" transform="translate(895,181.5) rotate(-24.5)">Position</text>
<text class="sans" transform="translate(897.5,219) rotate(-24.5)">2.</text>
<text class="sans" transform="translate(1041,153.5) rotate(-18.6)">Position</text>
<text class="sans" transform="translate(1049,187.5) rotate(-18.6)">3.</text>
</g>
</g>
<g id="panel-b">
<rect x="1161" y="4" width="486" height="495" fill="#000"/>
<g clip-path="url(#clipB)">
<g filter="url(#redmap)">
<rect x="1180" y="60" width="440" height="380" fill="#000"/>
<polygon points="1339,98 1348.8,106.3 1458.8,247.6 1449,268 1466,292 1481,318 1502,339 1522,356 1541,368 1552,367.6 1572,392 1572,408 1452,409 1445,397 1420,396 1410,410 1215,412 1214.3,395.2 1238,335.6 1253,334 1260,326 1268,312 1277,297 1284,283 1284,269 1286,256 1291,246 1300,236 1303,226 1301,214 1292,200.6 1328.2,109.3" fill="#fff"/>
</g>
<path fill="#fdc10d" fill-rule="evenodd" d="M1331.2,85.9 L1346.2,92.8 L1584,396.3 L1584,413.2 L1201.5,417 L1201.5,400.5 L1205.9,400.5 Z M1339.3,113.7 L1225.4,399.6 L1559.2,396.2 Z"/>
</g>
<rect x="1523.8" y="429.4" width="103.4" height="37" fill="#fdc10d"/>
<rect x="1546.8" y="473.8" width="75.8" height="7.3" fill="#fdc10d"/>
<text class="sans" x="1574.5" y="454.8" font-size="20.5" text-anchor="middle" fill="#0a0a0a" textLength="50" lengthAdjust="spacingAndGlyphs">2 µm</text>
<rect x="1549" y="32" width="83.3" height="309" rx="3" fill="#ffff14"/>
<rect x="1553.3" y="36.3" width="74.7" height="300.4" fill="#ffffff"/>
<rect x="1561.5" y="43.3" width="14" height="288.7" rx="1.5" fill="url(#hot)" stroke="#222" stroke-width="1"/>
<g stroke="#222" stroke-width="1.3">
<line x1="1575.5" y1="323.6" x2="1589.0" y2="323.6"/>
<line x1="1575.5" y1="308.6" x2="1582.0" y2="308.6"/>
<line x1="1575.5" y1="293.6" x2="1582.0" y2="293.6"/>
<line x1="1575.5" y1="278.6" x2="1582.0" y2="278.6"/>
<line x1="1575.5" y1="263.7" x2="1582.0" y2="263.7"/>
<line x1="1575.5" y1="248.7" x2="1589.0" y2="248.7"/>
<line x1="1575.5" y1="233.7" x2="1582.0" y2="233.7"/>
<line x1="1575.5" y1="218.7" x2="1582.0" y2="218.7"/>
<line x1="1575.5" y1="203.7" x2="1582.0" y2="203.7"/>
<line x1="1575.5" y1="188.7" x2="1582.0" y2="188.7"/>
<line x1="1575.5" y1="173.7" x2="1589.0" y2="173.7"/>
<line x1="1575.5" y1="158.7" x2="1582.0" y2="158.7"/>
<line x1="1575.5" y1="143.8" x2="1582.0" y2="143.8"/>
<line x1="1575.5" y1="128.8" x2="1582.0" y2="128.8"/>
<line x1="1575.5" y1="113.8" x2="1582.0" y2="113.8"/>
<line x1="1575.5" y1="98.8" x2="1589.0" y2="98.8"/>
<line x1="1575.5" y1="83.8" x2="1582.0" y2="83.8"/>
<line x1="1575.5" y1="68.8" x2="1582.0" y2="68.8"/>
<line x1="1575.5" y1="53.8" x2="1582.0" y2="53.8"/>
</g>
<g class="sans" font-size="15" fill="#111" style="font-weight:normal">
<text class="sans" x="1597" y="329.0" style="font-weight:normal">0</text>
<text class="sans" x="1597" y="254.1" style="font-weight:normal">50</text>
<text class="sans" x="1597" y="179.1" style="font-weight:normal">100</text>
<text class="sans" x="1597" y="104.2" style="font-weight:normal">150</text>
</g>
<text x="1172.5" y="45.5" font-size="49" fill="#8c8c8c">(b)</text>
</g>
<g id="panel-c">
<rect x="1161" y="510.7" width="489" height="484.5" fill="#000"/>
<g filter="url(#hotmap)">
<rect x="1190" y="565" width="400" height="360" fill="#000"/>
<path d="M1389,600.5 L1444.5,692 L1494.5,760 L1544,848 Q1551,862 1545,870.5 Q1539,877 1526,879 L1480,882.5 L1440,890.5 L1400,894 L1300,890 L1225,887 Q1211,885 1213,874.5 L1286,760 L1330,694 Z" fill="#fff"/>
</g>
<rect x="1554.3" y="526.5" width="85.5" height="311.5" rx="3" fill="#ffff14"/>
<rect x="1561.0" y="533.2" width="72.1" height="298.1" fill="#ffffff"/>
<rect x="1569.3" y="540" width="13" height="286.29999999999995" rx="1.5" fill="url(#hot)" stroke="#222" stroke-width="1"/>
<g stroke="#222" stroke-width="1.3">
<line x1="1582.3" y1="817.7" x2="1595.8" y2="817.7"/>
<line x1="1582.3" y1="802.8" x2="1588.8" y2="802.8"/>
<line x1="1582.3" y1="788.0" x2="1588.8" y2="788.0"/>
<line x1="1582.3" y1="773.1" x2="1588.8" y2="773.1"/>
<line x1="1582.3" y1="758.2" x2="1588.8" y2="758.2"/>
<line x1="1582.3" y1="743.4" x2="1595.8" y2="743.4"/>
<line x1="1582.3" y1="728.5" x2="1588.8" y2="728.5"/>
<line x1="1582.3" y1="713.6" x2="1588.8" y2="713.6"/>
<line x1="1582.3" y1="698.7" x2="1588.8" y2="698.7"/>
<line x1="1582.3" y1="683.9" x2="1588.8" y2="683.9"/>
<line x1="1582.3" y1="669.0" x2="1595.8" y2="669.0"/>
<line x1="1582.3" y1="654.1" x2="1588.8" y2="654.1"/>
<line x1="1582.3" y1="639.3" x2="1588.8" y2="639.3"/>
<line x1="1582.3" y1="624.4" x2="1588.8" y2="624.4"/>
<line x1="1582.3" y1="609.5" x2="1588.8" y2="609.5"/>
<line x1="1582.3" y1="594.7" x2="1595.8" y2="594.7"/>
<line x1="1582.3" y1="579.8" x2="1588.8" y2="579.8"/>
<line x1="1582.3" y1="564.9" x2="1588.8" y2="564.9"/>
<line x1="1582.3" y1="550.0" x2="1588.8" y2="550.0"/>
</g>
<g class="sans" font-size="15" fill="#111" style="font-weight:normal">
<text class="sans" x="1604.5" y="823.1" style="font-weight:normal">0</text>
<text class="sans" x="1604.5" y="748.8" style="font-weight:normal">50</text>
<text class="sans" x="1604.5" y="674.4" style="font-weight:normal">100</text>
<text class="sans" x="1604.5" y="600.1" style="font-weight:normal">150</text>
</g>
<rect x="1530.8" y="921" width="98.2" height="39" fill="#fdc10d"/>
<rect x="1540.7" y="972.2" width="82.6" height="7.2" fill="#fdc10d"/>
<text x="1578.5" y="949.6" font-size="27" text-anchor="middle" fill="#0a0a0a">2 µm</text>
<text x="1174.3" y="558" font-size="51" fill="#8c8c8c">(c)</text>
</g>
</svg>
</body></html>
